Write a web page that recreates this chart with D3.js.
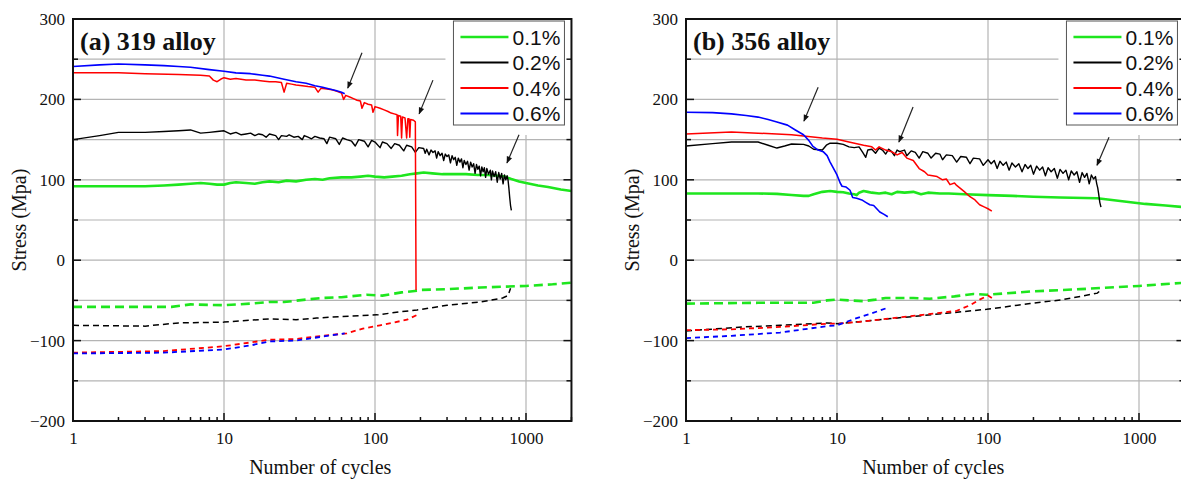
<!DOCTYPE html>
<html>
<head>
<meta charset="utf-8">
<script src="https://cdn.jsdelivr.net/npm/d3@7"></script>
<style>
  html, body { margin: 0; padding: 0; background: #fff; }
  svg { display: block; }
</style>
</head>
<body>
<svg id="chart" width="1181" height="479"></svg>
<script>
// Strain amplitude levels shown in the legends
const strainLevels = ["0.1%", "0.2%", "0.4%", "0.6%"];
const seriesColors = ["#1ee61e", "#000000", "#ff0000", "#0000ff"];
const yTicks = [-200, -100, 0, 100, 200, 300];
const yGrid = [-150, -100, -50, 0, 50, 100, 150, 200, 250];
const xTicks = [1, 10, 100, 1000];

// ---- (a) 319 alloy: peak (tensile) stress vs cycles ----
const a319Max01 = [[1,92],[2,92],[3,92],[4,93],[5,94],[6,95],[7,96],[8,95],[9,94],[10,94],[11,96],[12,97],[14,96],[16,95],[18,97],[20,98],[23,97],[26,99],[30,98],[35,100],[40,101],[45,100],[50,102],[60,103],[70,103],[80,104],[90,105],[100,104],[115,103],[130,104],[150,105],[170,107],[190,108],[210,109],[240,108],[280,107],[330,107],[400,107],[480,106],[560,106],[650,105],[720,104],[800,101],[900,98],[1000,96],[1200,93],[1400,91],[1700,88],[2000,86]];
const a319Max02 = [[1,150],[1.5,155],[2,159],[3,159],[4,160],[5,161],[6,162],[7,158],[8,159],[9,160],[10,161],[11,157],[12,159],[13,156],[14,157],[15,158],[16,155],[17,157],[18,156],[19,153],[20,157],[22,155],[23,150],[24,155],[26,154],[27,156],[29,153],[31,154],[33,150],[34,155],[36,153],[38,151],[40,154],[43,152],[46,151],[48,145],[50,153],[55,151],[58,144],[61,152],[65,150],[70,148],[74,142],[78,150],[85,148],[90,141],[95,149],[100,147],[108,140],[112,147],[120,145],[128,139],[135,145],[145,143],[155,136],[162,143],[175,141],[185,134],[195,140],[210,139],[215,133],[220,138],[228,131],[235,137],[242,134],[250,136],[256,127],[262,135],[270,130],[278,133],[285,124],[292,132],[300,129],[308,131],[316,121],[324,130],[332,125],[340,128],[348,118],[356,127],[365,122],[374,126],[382,115],[390,124],[400,119],[410,123],[420,112],[430,122],[440,116],[450,120],[460,108],[470,119],[480,113],[490,117],[500,105],[510,116],[520,110],[530,115],[540,103],[550,114],[565,107],[580,112],[590,100],[600,111],[615,104],[630,110],[645,97],[660,109],[675,101],[690,108],[705,95],[720,106],[735,100],[750,105],[760,100],[770,90],[780,78],[790,68],[800,62]];
const a319Max04 = [[1,233],[2,233],[3,232],[5,231],[7,230],[8,229],[8.5,224],[9,222],[9.5,225],[10,227],[11,225],[12,226],[14,224],[16,224],[18,223],[20,222],[22,222],[24,221],[25,209],[26,220],[28,219],[30,218],[33,217],[36,216],[40,215],[42,209],[44,214],[48,213],[52,212],[56,210],[60,208],[62,200],[64,205],[68,203],[72,201],[76,199],[80,198],[82,189],[85,196],[90,194],[95,193],[97,184],[100,191],[108,189],[115,187],[122,185],[128,183],[134,182],[140,181],[141,155],[143,180],[148,179],[150,152],[152,178],[158,177],[162,152],[165,176],[168,176],[170,153],[172,175],[180,174],[185,172],[187,-37]];
const a319Max06 = [[1,241],[1.5,243],[2,244],[3,243],[4,242],[5,241],[6,240],[8,237],[10,235],[12,233],[15,232],[18,230],[20,229],[25,225],[30,222],[35,220],[40,217],[45,215],[50,213],[55,211],[60,209],[63,207]];

// ---- (a) 319 alloy: valley (compressive) stress vs cycles ----
const a319Min01 = [[1,-58],[3,-58],[4.5,-58],[6,-55],[10,-56],[15,-54],[20,-52],[25,-52],[35,-49],[45,-47],[60,-46],[88,-43],[112,-44],[150,-40],[190,-38],[200,-37],[300,-36],[500,-34],[700,-33],[1000,-32],[1500,-30],[2000,-28]];
const a319Min02 = [[1,-81],[3,-82],[5,-78],[10,-77],[20,-73],[30,-74],[41,-72],[60,-70],[103,-68],[150,-64],[190,-62],[300,-56],[500,-52],[700,-47],[760,-44],[790,-35]];
const a319Min04 = [[1,-115],[4,-113],[10,-107],[20,-99],[30,-98],[45,-94],[65,-91],[83,-85],[108,-81],[163,-74],[190,-68]];
const a319Min06 = [[1,-116],[4,-115],[10,-111],[15,-106],[20,-101],[30,-100],[45,-95],[63,-91]];

// ---- (b) 356 alloy: peak (tensile) stress vs cycles ----
const a356Max01 = [[1,83],[2,83],[3,83],[4,82.5],[5,81],[6,80],[6.5,80],[7,82],[8,85],[9,86],[10,85],[11,84.5],[12,83],[13,82],[13.5,81],[14,84],[15,86],[16,85],[17,84],[19,83],[21,84],[23,82],[25,85],[28,84],[32,85],[36,82],[40,84],[48,83],[55,83],[70,82],[100,81],[146,80],[200,79],[300,78],[530,77],[800,73],[1100,70],[1500,68],[2000,66]];
const a356Max02 = [[1,142],[1.5,145],[2,147],[3,147],[3.5,143],[4,139.5],[4.5,142],[5,144.5],[6,144],[6.5,142],[7,138],[8,137],[8.5,143],[9,145.5],[10,145.5],[11,144],[12,141],[13,140],[14,141],[14.8,134],[15.5,128],[16,137],[17,138],[18,133],[19,139.5],[20,137],[21,132],[22,138],[23,135],[24,130],[25,137],[26,135],[28,137],[29,130],[31,136],[33,134],[35,127],[37,135],[40,133],[42,127],[45,133],[48,132],[50,125],[53,131],[58,130],[62,122],[66,129],[72,128],[76,120],[80,127],[88,126],[93,118],[100,125],[105,120],[110,124],[115,114],[120,123],[126,118],[132,122],[138,112],[144,121],[152,116],[160,120],[168,110],[176,119],[184,114],[192,118],[200,107],[210,117],[220,112],[230,116],[240,105],[250,115],[262,110],[275,114],[288,102],[300,113],[314,108],[328,112],[342,100],[356,111],[372,106],[388,110],[404,97],[420,109],[436,103],[452,108],[468,95],[484,106],[500,101],[515,104],[525,95],[533,90],[540,83],[550,72],[560,66]];
const a356Max04 = [[1,157],[2,159.5],[3,158],[4,157],[5,156],[6,154.5],[8,152],[10,150.5],[12,147],[15,143],[17,141],[18,137],[19,141],[21,137],[23,135],[25,131],[27,134],[29,127],[32,124],[35,114],[38,110],[40,106],[43,105],[46,104],[50,100],[53,101],[56,94],[60,96],[62,93],[65,90],[70,85],[76,79],[82,75],[88,69],[95,66],[100,64],[106,61]];
const a356Max06 = [[1,184],[1.5,183.5],[2,182],[2.5,180],[3,178],[3.5,175],[4,172],[4.7,168],[5.3,162],[6,156],[6.5,149],[6.9,142],[7.5,137],[8.1,135],[8.6,130],[9,122],[9.5,114],[10,106],[10.5,96],[10.8,92],[11.5,91],[12.2,87],[12.7,78],[13.5,77],[14.6,75],[15.5,72],[16.5,69],[17.5,68],[19.2,60],[20.5,57],[21.7,54]];

// ---- (b) 356 alloy: valley (compressive) stress vs cycles ----
const a356Min01 = [[1,-54],[3,-53],[5,-53],[7,-53],[8,-51],[8.6,-50],[10,-49],[12,-50],[15,-51],[18,-49],[21,-47],[25,-47],[32,-47],[41,-48],[60,-45],[80,-42],[98,-43],[190,-39],[410,-36],[1000,-32],[2000,-28]];
const a356Min02 = [[1,-88],[2.4,-83],[4.2,-81],[8.6,-78],[10,-79],[13,-77],[19,-74],[32,-70],[53,-66],[98,-61],[190,-54],[314,-49],[530,-41],[560,-37]];
const a356Min04 = [[1,-87],[2,-86],[4.2,-83],[8.6,-79],[10,-79],[13.5,-77],[21,-73],[37,-68],[62,-63],[76,-56],[88,-49],[100,-44],[106,-47]];
const a356Min06 = [[1,-97],[2,-94],[4.2,-90],[8.6,-82],[10,-81],[13.5,-72],[19,-63],[21,-60]];

// Arrows marking failure onset: [fromCycles, fromStress, toCycles, toStress]
const a319Arrows = [[82,258,66,214],[242,224,196,182],[899,156,748,121]];
const a356Arrows = [[7.5,215,6.04,173],[31.9,190.5,25.7,147],[633,153,527,118]];

const panels = [
  { title: "(a) 319 alloy", left: 73, maxSeries: [a319Max01, a319Max02, a319Max04, a319Max06],
    minSeries: [a319Min01, a319Min02, a319Min04, a319Min06], arrows: a319Arrows },
  { title: "(b) 356 alloy", left: 686, maxSeries: [a356Max01, a356Max02, a356Max04, a356Max06],
    minSeries: [a356Min01, a356Min02, a356Min04, a356Min06], arrows: a356Arrows }
];

const svg = d3.select("#chart");
const plotTop = 19, plotBottom = 421, decade = 151;
const serif = "'Liberation Serif', 'Times New Roman', serif";
const sans = "'Liberation Sans', Arial, sans-serif";

const defs = svg.append("defs");
defs.append("marker").attr("id", "arrowHead").attr("viewBox", "0 0 10 10")
  .attr("refX", 9).attr("refY", 5).attr("markerWidth", 9).attr("markerHeight", 7)
  .attr("markerUnits", "userSpaceOnUse").attr("orient", "auto")
  .append("path").attr("d", "M0,1 L10,5 L0,9 Z").attr("fill", "#111");

const dashes = ["9,5", "6,4", "5,4", "5,4"];
const maxWidths = [2.6, 1.4, 1.5, 1.6];
const minWidths = [2.6, 1.5, 1.8, 1.8];

panels.forEach((p, pi) => {
  const right = p.left + Math.log10(2000) * decade;
  const x = d3.scaleLog().domain([1, 2000]).range([p.left, right]);
  const y = d3.scaleLinear().domain([-200, 300]).range([plotBottom, plotTop]);
  const g = svg.append("g");

  const clipId = "clip" + pi;
  defs.append("clipPath").attr("id", clipId).append("rect")
    .attr("x", p.left).attr("y", plotTop).attr("width", right - p.left).attr("height", plotBottom - plotTop);

  // grid
  g.append("g").selectAll("line").data(yGrid).join("line")
    .attr("x1", p.left).attr("x2", right).attr("y1", d => y(d)).attr("y2", d => y(d))
    .attr("stroke", "#b4b4b4").attr("stroke-width", 1.2);
  g.append("g").selectAll("line").data([10, 100, 1000]).join("line")
    .attr("x1", d => x(d)).attr("x2", d => x(d)).attr("y1", plotTop).attr("y2", plotBottom)
    .attr("stroke", "#b4b4b4").attr("stroke-width", 1.2);

  // white space behind the legend
  g.append("rect").attr("x", right - 126).attr("y", plotTop + 1).attr("width", 125).attr("height", 115)
    .attr("fill", "#fff");

  // curves
  const line = d3.line().x(d => x(d[0])).y(d => y(d[1]));
  const curves = g.append("g").attr("clip-path", `url(#${clipId})`);
  p.minSeries.forEach((s, i) => {
    curves.append("path").datum(s).attr("d", line).attr("fill", "none")
      .attr("stroke", seriesColors[i]).attr("stroke-width", minWidths[i])
      .attr("stroke-dasharray", dashes[i]);
  });
  [0, 1, 2, 3].forEach(i => {
    curves.append("path").datum(p.maxSeries[i]).attr("d", line).attr("fill", "none")
      .attr("stroke", seriesColors[i]).attr("stroke-width", maxWidths[i])
      .attr("stroke-linejoin", "round");
  });

  // axes
  const yAxis = d3.axisLeft(y).tickValues(yTicks).tickSize(0).tickPadding(8).tickFormat(d3.format("d"));
  const ya = g.append("g").attr("transform", `translate(${p.left},0)`).call(yAxis);
  ya.select(".domain").remove();
  ya.selectAll("text").attr("font-family", serif).attr("font-size", 17).attr("fill", "#111");

  const xAxis = d3.axisBottom(x).tickValues(xTicks).tickSize(0).tickPadding(11).tickFormat(d3.format("d"));
  const xa = g.append("g").attr("transform", `translate(0,${plotBottom})`).call(xAxis);
  xa.select(".domain").remove();
  xa.selectAll("text").attr("font-family", serif).attr("font-size", 17).attr("fill", "#111");

  // inward tick marks
  const tk = g.append("g").attr("stroke", "#111").attr("stroke-width", 1.5);
  yGrid.concat([-200, 300]).forEach(v => {
    const len = (v % 100 === 0) ? 8 : 5;
    tk.append("line").attr("x1", p.left).attr("x2", p.left + len).attr("y1", y(v)).attr("y2", y(v));
    tk.append("line").attr("x1", right).attr("x2", right - len).attr("y1", y(v)).attr("y2", y(v));
  });
  const minor = [];
  [1, 10, 100, 1000].forEach(dd => { for (let k = 1; k <= 9; k++) if (dd * k <= 2000) minor.push(dd * k); });
  minor.forEach(v => {
    const major = [1, 10, 100, 1000].includes(v);
    tk.append("line").attr("x1", x(v)).attr("x2", x(v)).attr("y1", plotBottom).attr("y2", plotBottom - (major ? 8 : 4));
  });

  // frame
  g.append("rect").attr("x", p.left).attr("y", plotTop).attr("width", right - p.left).attr("height", plotBottom - plotTop)
    .attr("fill", "none").attr("stroke", "#111").attr("stroke-width", 2);

  // arrows
  g.append("g").selectAll("line").data(p.arrows).join("line")
    .attr("x1", d => x(d[0])).attr("y1", d => y(d[1])).attr("x2", d => x(d[2])).attr("y2", d => y(d[3]))
    .attr("stroke", "#222").attr("stroke-width", 1.2).attr("marker-end", "url(#arrowHead)");

  // panel title
  g.append("text").attr("x", p.left + 7).attr("y", 50).text(p.title)
    .attr("font-family", serif).attr("font-weight", "bold").attr("font-size", 26).attr("fill", "#111");

  // axis titles
  g.append("text").attr("x", (p.left + right) / 2 - 2).attr("y", 474).attr("text-anchor", "middle")
    .text("Number of cycles").attr("font-family", serif).attr("font-size", 20).attr("fill", "#111");
  g.append("text").attr("transform", `translate(${p.left - 47},${(plotTop + plotBottom) / 2}) rotate(-90)`)
    .attr("text-anchor", "middle").text("Stress (Mpa)")
    .attr("font-family", serif).attr("font-size", 20).attr("fill", "#111");

  // legend
  const lgX = right - 118, lgY = plotTop + 2;
  const lg = g.append("g");
  lg.append("rect").attr("x", lgX).attr("y", lgY).attr("width", 111).attr("height", 104)
    .attr("fill", "#fff").attr("stroke", "#555").attr("stroke-width", 1);
  strainLevels.forEach((lab, i) => {
    const cy = lgY + 16 + i * 25.5;
    lg.append("line").attr("x1", lgX + 7).attr("x2", lgX + 55).attr("y1", cy).attr("y2", cy)
      .attr("stroke", seriesColors[i]).attr("stroke-width", i === 0 ? 2.6 : 1.8);
    lg.append("text").attr("x", lgX + 59).attr("y", cy + 7.5).text(lab)
      .attr("font-family", sans).attr("font-size", 21).attr("fill", "#111");
  });
});
</script>
</body>
</html>
